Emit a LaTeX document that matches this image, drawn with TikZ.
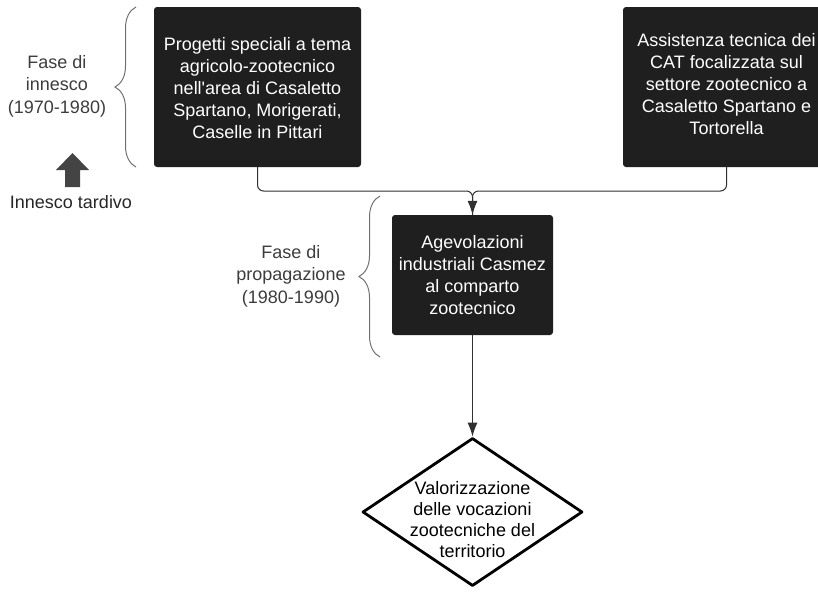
\documentclass[tikz,border=0pt]{standalone}
\usepackage{fontspec}
\setmainfont{Liberation Sans}
\usetikzlibrary{arrows.meta,decorations.pathreplacing,shapes.geometric}
\definecolor{boxfill}{HTML}{1F1F1F}
\definecolor{labelgray}{HTML}{3C3C3C}
\definecolor{bracegray}{HTML}{707070}
\definecolor{linegray}{HTML}{303030}
\definecolor{icongray}{HTML}{444444}
\begin{document}
\begin{tikzpicture}[x=1pt,y=-1pt,
  darkbox/.style={fill=boxfill, rounded corners=3pt, text=white, align=center, inner sep=0pt,
    font=\fontsize{18}{22}\selectfont},
  boxtext/.style={text=white, align=center, inner sep=0pt, font=\fontsize{18}{22}\selectfont},
  lbl/.style={text=labelgray, align=center, inner sep=0pt, font=\fontsize{18}{22.5}\selectfont},
  conn/.style={draw=linegray, line width=1pt},
  bracestyle/.style={draw=bracegray, line width=1pt, decorate, decoration={brace, amplitude=21pt}},
  tip/.style={-{Latex[length=14pt,width=10pt]}}]
\useasboundingbox (0,0) rectangle (818,592);

% boxes
\node[darkbox, minimum width=207pt, minimum height=160pt] (b1) at (257.5,87) {};
\node[boxtext] (b1t) at (257.5,88)
  {Progetti speciali a tema\\agricolo-zootecnico\\nell\textquotesingle area di Casaletto\\Spartano, Morigerati,\\Caselle in Pittari};
\node[darkbox, minimum width=207pt, minimum height=160pt] (b2) at (726.5,87) {};
\node[boxtext] (b2t) at (726.5,84)
  {Assistenza tecnica dei\\CAT focalizzata sul\\settore zootecnico a\\Casaletto Spartano e\\Tortorella};
\node[darkbox, minimum width=161pt, minimum height=120pt] (b3) at (472.5,275)
  {Agevolazioni\\industriali Casmez\\al comparto\\zootecnico};

% diamond
\node[diamond, draw=black, line width=2.8pt, line join=round, minimum width=220pt, minimum height=148pt, inner sep=0pt] (d) at (472.5,512) {};
\node[align=center, inner sep=0pt, font=\fontsize{18}{21}\selectfont] (dt) at (472.5,520)
  {Valorizzazione\\delle vocazioni\\zootecniche del\\territorio};

% labels
\node[lbl] (l1) at (57,86) {Fase di\\innesco\\(1970-1980)};
\node[lbl] (l2) at (291,276) {Fase di\\propagazione\\(1980-1990)};
\node[lbl, text=black!85] (l3) at (71,202) {Innesco tardivo};

% block arrow icon
\fill[icongray] (72.5,153) -- (89,170) -- (80,170) -- (80,187) -- (65,187) -- (65,170) -- (56,170) -- cycle;

% braces
\coordinate (br1a) at (136,167);
\coordinate (br1b) at (136,7);
\coordinate (br2a) at (380,357);
\coordinate (br2b) at (380,196);
\draw[bracestyle] (br1a) -- (br1b);
\draw[bracestyle] (br2a) -- (br2b);

% connectors
\coordinate (j) at (472.5,191);
\draw[conn, rounded corners=6pt] (b2.south) |- (j) -- (b3.north);
\draw[conn, rounded corners=6pt, tip] (b1.south) |- (j) -- (b3.north);
\draw[conn, tip] (b3.south) -- (d.north);
\end{tikzpicture}
\end{document}
